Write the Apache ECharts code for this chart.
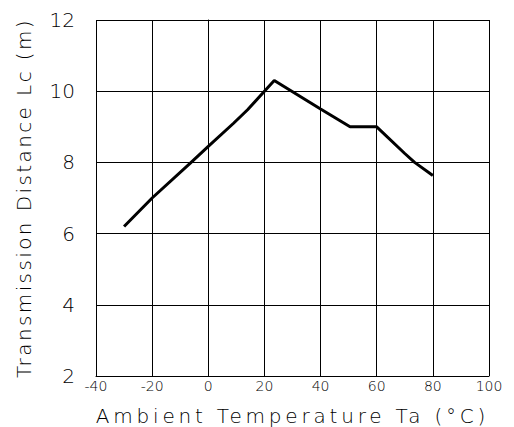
<!DOCTYPE html>
<html>
<head>
<meta charset="utf-8">
<script src="https://cdn.jsdelivr.net/npm/echarts@6/dist/echarts.min.js"></script>
<style>
    html, body { margin: 0; padding: 0; background: #fff; }
    #chart { width: 514px; height: 427px; }
</style>
</head>
<body>
<div id="chart"></div>
<script>
// 读图得到的数据 温度 / 传输距离
const temps = [-30, -20, -6.4, 0, 9, 14, 20, 23.5, 40, 50.5, 60, 70, 73.5, 80]
const distances = [6.2, 7.0, 7.98, 8.45, 9.1, 9.48, 10.0, 10.3, 9.5, 9.0, 9.0, 8.25, 8.0, 7.63]

const xTicks = [-40, -20, 0, 20, 40, 60, 80, 100]
const yTicks = [2, 4, 6, 8, 10, 12]

const xName = 'Ambient Temperature Ta (°C)'
const yName = 'Transmission Distance Lc (m)'

const FONT = 'DejaVu Sans'

const chart = echarts.init(document.getElementById('chart'), null, { renderer: 'svg' })

const option = {
    animation: false,
    backgroundColor: '#fff',
    grid: {
        left: 96,
        right: 25,
        top: 20,
        bottom: 51,
        outerBoundsMode: 'none'
    },
    xAxis: {
        type: 'value',
        min: xTicks[0],
        max: xTicks[xTicks.length - 1],
        interval: 20,
        name: xName,
        nameLocation: 'middle',
        nameGap: 29,
        nameTextStyle: { fontFamily: FONT, fontSize: 20, fontWeight: 200, color: '#000', lineHeight: 22 },
        axisLine: { lineStyle: { color: '#000', width: 1 } },
        axisTick: { show: false },
        axisLabel: { fontFamily: FONT, fontSize: 14, fontWeight: 200, color: '#000', margin: 3 },
        splitLine: { show: true, lineStyle: { color: '#000', width: 1 } }
    },
    yAxis: {
        type: 'value',
        min: yTicks[0],
        max: yTicks[yTicks.length - 1],
        interval: 2,
        name: yName,
        nameLocation: 'middle',
        nameGap: 62,
        nameTextStyle: { fontFamily: FONT, fontSize: 20, fontWeight: 200, color: '#000' },
        axisLine: { show: true, lineStyle: { color: '#000', width: 1 } },
        axisTick: { show: false },
        axisLabel: { fontFamily: FONT, fontSize: 20, fontWeight: 200, color: '#000', margin: 21 },
        splitLine: { show: true, lineStyle: { color: '#000', width: 1 } }
    },
    series: [{
        type: 'line',
        data: temps.map((t, i) => [t, distances[i]]),
        symbol: 'none',
        lineStyle: { color: '#000', width: 3 }
    }]
}

chart.setOption(option)

// 原图是很宽的笔画字体 给坐标轴名字加一点字距
const spacing = {}
spacing[xName] = 3.8
spacing[yName] = 2.4
document.querySelectorAll('#chart text').forEach(t => {
    const s = spacing[t.textContent]
    if (s) t.style.letterSpacing = s + 'px'
})
</script>
</body>
</html>
